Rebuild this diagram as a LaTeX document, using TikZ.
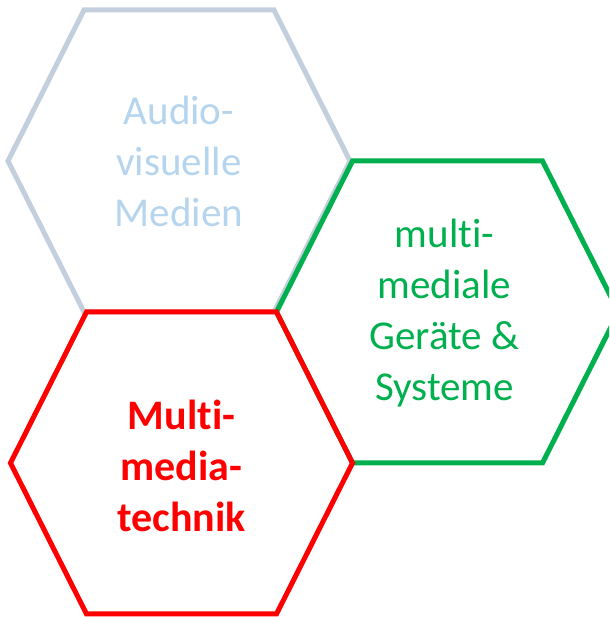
\documentclass[tikz,border=0pt]{standalone}
\usepackage{fontspec}
\setmainfont{Carlito}[Ligatures={NoCommon,NoRequired,NoContextual}]
\usepackage{tikz}
\definecolor{hexgray}{rgb}{0.77, 0.81, 0.87}
\definecolor{textblue}{rgb}{0.71, 0.83, 0.93}
\definecolor{green}{rgb}{0.0, 0.69, 0.31}
\definecolor{red}{rgb}{1.0, 0.0, 0.0}
\tikzset{
  hexline/.style={line width=5pt,line join=miter},
  hextext/.style={align=center,inner sep=0pt,font=\fontsize{41}{51}\selectfont}
}
\newcommand\hexpath{(-171,0) -- (-95,151) -- (95,151) -- (171,0) -- (95,-151) -- (-95,-151) -- cycle}

\begin{document}
\begin{tikzpicture}[x=1pt,y=1pt]
	 	 		\useasboundingbox (0,0) rectangle (609,617);
	 	 		\clip (0,0) rectangle (609,617);
	 	 		\coordinate (AV) at (179,456);
	 	 		\coordinate (MG) at (447.5,305);
	 	 		\coordinate (MT) at (181.5,154);
	 	 		\draw[hexline,hexgray,shift={(AV)}] \hexpath;
	 	 		\draw[hexline,green,shift={(MG)}] \hexpath;
	 	 		\draw[hexline,red,shift={(MT)}] \hexpath;
	 	 		\node[hextext,textblue] (av) at (AV) {Audio-\\visuelle\\Medien};
	 	 		\node[hextext,green] (mg) at ([xshift=-3pt,yshift=-1pt]MG) {multi-\\mediale\\Geräte \&\\Systeme};
	 	 		\node[hextext,red,font=\fontsize{42}{51}\selectfont\bfseries] (mt) at ([yshift=-3pt]MT) {Multi-\\media-\\technik};
	 	 		\end{tikzpicture}
\end{document}
